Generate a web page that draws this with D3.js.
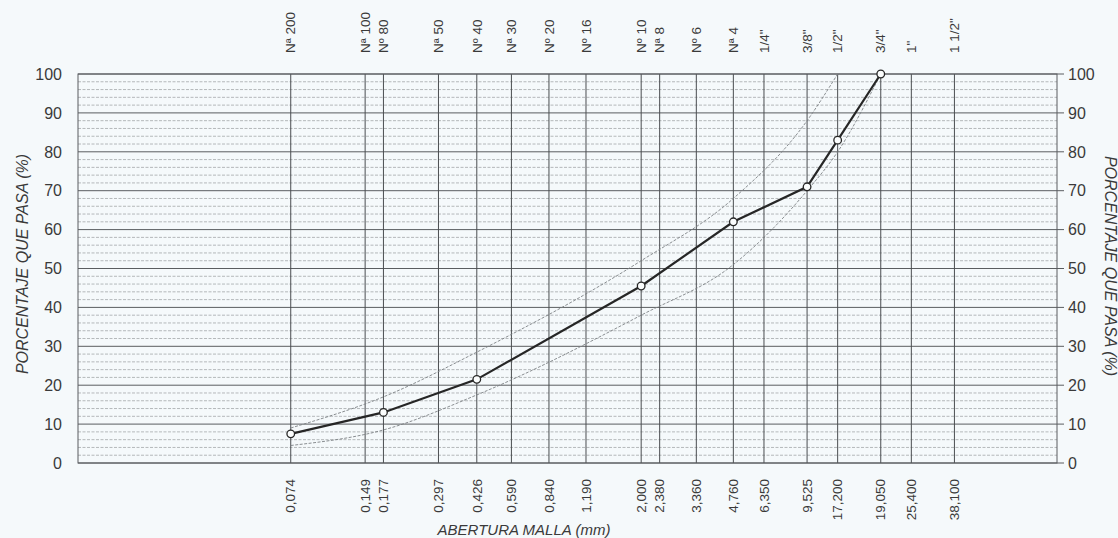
<!DOCTYPE html>
<html>
<head>
<meta charset="utf-8">
<script src="https://cdn.jsdelivr.net/npm/d3@7"></script>
<style>
  body { margin: 0; background: #f5f9fb; }
  svg { display: block; font-family: "Liberation Sans", Arial, sans-serif; }
</style>
</head>
<body>
<div id="chart"></div>
<script>

// sieves: name on top, opening on bottom (1/2" line sits at 12.7 but is printed 17,200)
var sieveNames = ["Nª 200", "Nª 100", "Nº 80", "Nª 50", "Nº 40", "Nª 30", "Nº 20", "Nº 16", "Nº 10", "Nª 8",
                  "Nº 6", "Nª 4", "1/4\"", "3/8\"", "1/2\"", "3/4\"", "1\"", "1 1/2\""];
var sieveOpenings = [0.074, 0.149, 0.177, 0.297, 0.426, 0.590, 0.840, 1.190, 2.000, 2.380,
                     3.360, 4.760, 6.350, 9.525, 12.700, 19.050, 25.400, 38.100];
var openingLabels = ["0,074", "0,149", "0,177", "0,297", "0,426", "0,590", "0,840", "1,190", "2,000", "2,380",
                     "3,360", "4,760", "6,350", "9,525", "17,200", "19,050", "25,400", "38,100"];

var percentTicks = [0, 10, 20, 30, 40, 50, 60, 70, 80, 90, 100];

// sample gradation
var sampleSizes = [0.074, 0.177, 0.426, 2.000, 4.760, 9.525, 12.700, 19.050];
var samplePass = [7.5, 13, 21.5, 45.5, 62, 71, 83, 100];

// spec band
var upperSizes = [0.074, 0.177, 0.426, 2.000, 4.760, 9.525, 12.700];
var upperPass = [9, 17, 28.5, 52, 68, 88, 100];
var lowerSizes = [0.074, 0.177, 0.426, 2.000, 4.760, 9.525, 12.700, 19.050];
var lowerPass = [4.5, 8.5, 17.5, 38, 51, 70, 80, 100];


var width = 1118, height = 538;

var svg = d3.select("#chart").append("svg")
  .attr("width", width).attr("height", height);

svg.append("rect").attr("width", width).attr("height", height).attr("fill", "#f5f9fb");

var x = d3.scaleLog().domain([0.01, 100]).range([78, 1057]);
var y = d3.scaleLinear().domain([0, 100]).range([463, 74]);

var grid = svg.append("g");

// minor horizontal lines every 2 %
grid.selectAll("line.minor")
  .data(d3.range(2, 100, 2).filter(function(d) { return d % 10 != 0; }))
  .enter().append("line")
  .attr("class", "minor")
  .attr("x1", x.range()[0]).attr("x2", x.range()[1])
  .attr("y1", function(d) { return y(d); }).attr("y2", function(d) { return y(d); })
  .attr("stroke", "#a3a7a9").attr("stroke-width", 0.8)
  .attr("stroke-dasharray", "3,1.5");

// major horizontal lines every 10 %, with a small tick on the right
grid.selectAll("line.major")
  .data(percentTicks)
  .enter().append("line")
  .attr("class", "major")
  .attr("x1", x.range()[0]).attr("x2", x.range()[1] + 7)
  .attr("y1", function(d) { return y(d); }).attr("y2", function(d) { return y(d); })
  .attr("stroke", "#5a5d60").attr("stroke-width", 1);

// vertical sieve lines
grid.selectAll("line.sieve")
  .data(sieveOpenings)
  .enter().append("line")
  .attr("class", "sieve")
  .attr("x1", function(d) { return x(d); }).attr("x2", function(d) { return x(d); })
  .attr("y1", y(100)).attr("y2", y(0))
  .attr("stroke", "#4a4d50").attr("stroke-width", 1);

// border
grid.append("rect")
  .attr("x", x.range()[0]).attr("y", y(100))
  .attr("width", x.range()[1] - x.range()[0]).attr("height", y(0) - y(100))
  .attr("fill", "none").attr("stroke", "#5a5d60").attr("stroke-width", 1);

// percentage labels both sides
svg.append("g").selectAll("text")
  .data(percentTicks).enter().append("text")
  .attr("x", 62).attr("y", function(d) { return y(d); })
  .attr("dy", "0.36em").attr("text-anchor", "end")
  .attr("font-size", 16).attr("fill", "#3a3a3a")
  .text(function(d) { return d; });

svg.append("g").selectAll("text")
  .data(percentTicks).enter().append("text")
  .attr("x", 1068).attr("y", function(d) { return y(d); })
  .attr("dy", "0.36em").attr("text-anchor", "start")
  .attr("font-size", 16).attr("fill", "#3a3a3a")
  .text(function(d) { return d; });

// sieve names on top
svg.append("g").selectAll("text")
  .data(sieveOpenings).enter().append("text")
  .attr("transform", function(d) { return "translate(" + x(d) + ",53) rotate(-90)"; })
  .attr("dy", "0.35em").attr("text-anchor", "start")
  .attr("font-size", 13.5).attr("fill", "#3a3a3a")
  .text(function(d, i) { return sieveNames[i]; });

// openings at bottom
svg.append("g").selectAll("text")
  .data(sieveOpenings).enter().append("text")
  .attr("transform", function(d) { return "translate(" + x(d) + ",479) rotate(-90)"; })
  .attr("dy", "0.35em").attr("text-anchor", "end")
  .attr("font-size", 13.5).attr("fill", "#3a3a3a")
  .text(function(d, i) { return openingLabels[i]; });

// axis titles
svg.append("text")
  .attr("transform", "translate(22,264) rotate(-90)")
  .attr("dy", "0.35em").attr("text-anchor", "middle")
  .attr("font-size", 16).attr("font-style", "italic").attr("fill", "#3a3a3a")
  .text("PORCENTAJE QUE PASA (%)");

svg.append("text")
  .attr("transform", "translate(1111,266) rotate(90)")
  .attr("dy", "0.35em").attr("text-anchor", "middle")
  .attr("font-size", 16).attr("font-style", "italic").attr("fill", "#3a3a3a")
  .text("PORCENTAJE QUE PASA (%)");

svg.append("text")
  .attr("x", 524).attr("y", 535)
  .attr("text-anchor", "middle")
  .attr("font-size", 15).attr("font-style", "italic").attr("fill", "#3a3a3a")
  .text("ABERTURA MALLA (mm)");

// limit curves
var limitLine = d3.line()
  .x(function(d) { return x(d[0]); })
  .y(function(d) { return y(d[1]); })
  .curve(d3.curveMonotoneX);

[d3.zip(upperSizes, upperPass), d3.zip(lowerSizes, lowerPass)].forEach(function(pts) {
  svg.append("path")
    .attr("d", limitLine(pts))
    .attr("fill", "none").attr("stroke", "#7d8184").attr("stroke-width", 0.9)
    .attr("stroke-dasharray", "3,1.5");
});

// sample curve
var sampleData = d3.zip(sampleSizes, samplePass);
var sampleLine = d3.line()
  .x(function(d) { return x(d[0]); })
  .y(function(d) { return y(d[1]); });

svg.append("path")
  .attr("d", sampleLine(sampleData))
  .attr("fill", "none").attr("stroke", "#262626").attr("stroke-width", 2.2);

svg.append("g").selectAll("circle")
  .data(sampleData).enter().append("circle")
  .attr("cx", function(d) { return x(d[0]); })
  .attr("cy", function(d) { return y(d[1]); })
  .attr("r", 3.8)
  .attr("fill", "#fbfdfd").attr("stroke", "#262626").attr("stroke-width", 1.3);

</script>
</body>
</html>
